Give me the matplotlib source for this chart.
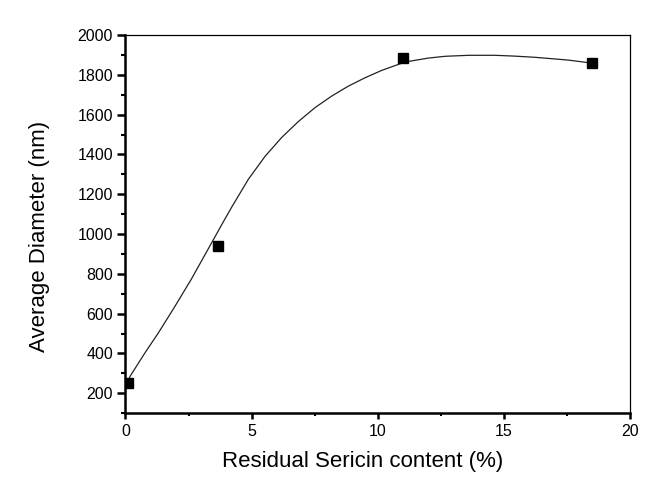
import matplotlib
matplotlib.use("Agg")
import matplotlib.pyplot as plt
from matplotlib.ticker import MultipleLocator

plt.rcParams['font.family'] = ['Liberation Sans', 'DejaVu Sans']

# measured points
sericin = [0.1, 3.65, 11.0, 18.5]
diameter = [253, 940, 1885, 1858]

# fitted curve
curve_x = [0.1, 0.18, 0.77, 1.30, 1.96, 2.62, 3.28, 3.94, 4.21, 4.87, 5.53,
           6.19, 6.85, 7.51, 8.17, 8.83, 9.49, 10.15, 10.94, 11.2, 12.0,
           12.66, 13.6, 14.64, 15.4, 16.22, 17.54, 18.47]
curve_y = [253, 284, 402, 502, 636, 775, 925, 1075, 1135, 1275, 1390,
           1485, 1565, 1635, 1693, 1743, 1785, 1822, 1858, 1867, 1884,
           1893, 1898, 1898, 1894, 1888, 1874, 1859]

fig = plt.figure(figsize=(6.67, 4.93), dpi=100)
ax = fig.add_axes([0.188, 0.162, 0.757, 0.767])

ax.plot(curve_x, curve_y, color='#222222', linewidth=0.9,
        solid_joinstyle='round')
ax.plot(sericin, diameter, linestyle='none', marker='s', markersize=7,
        color='black')

ax.set_xlim(0, 20)
ax.set_ylim(100, 2000)
ax.xaxis.set_major_locator(MultipleLocator(5))
ax.xaxis.set_minor_locator(MultipleLocator(2.5))
ax.yaxis.set_major_locator(MultipleLocator(200))
ax.yaxis.set_minor_locator(MultipleLocator(100))

ax.spines['left'].set_linewidth(1.8)
ax.spines['bottom'].set_linewidth(1.8)
ax.spines['top'].set_linewidth(0.9)
ax.spines['right'].set_linewidth(0.9)

ax.tick_params(axis='both', which='major', direction='out', width=1.8,
               labelsize=11.5, colors='black')
ax.tick_params(axis='y', which='major', length=5.5)
ax.tick_params(axis='y', which='minor', length=3, width=1.5)
ax.tick_params(axis='x', which='major', length=4)
ax.tick_params(axis='x', which='minor', length=2.5, width=1.5)

ax.set_xlabel('Residual Sericin content (%)', fontsize=16)
ax.set_ylabel('Average Diameter (nm)', fontsize=16)
ax.xaxis.set_label_coords(0.47, -0.1)
ax.yaxis.set_label_coords(-0.15, 0.466)

fig.savefig('out.png', dpi=100)
